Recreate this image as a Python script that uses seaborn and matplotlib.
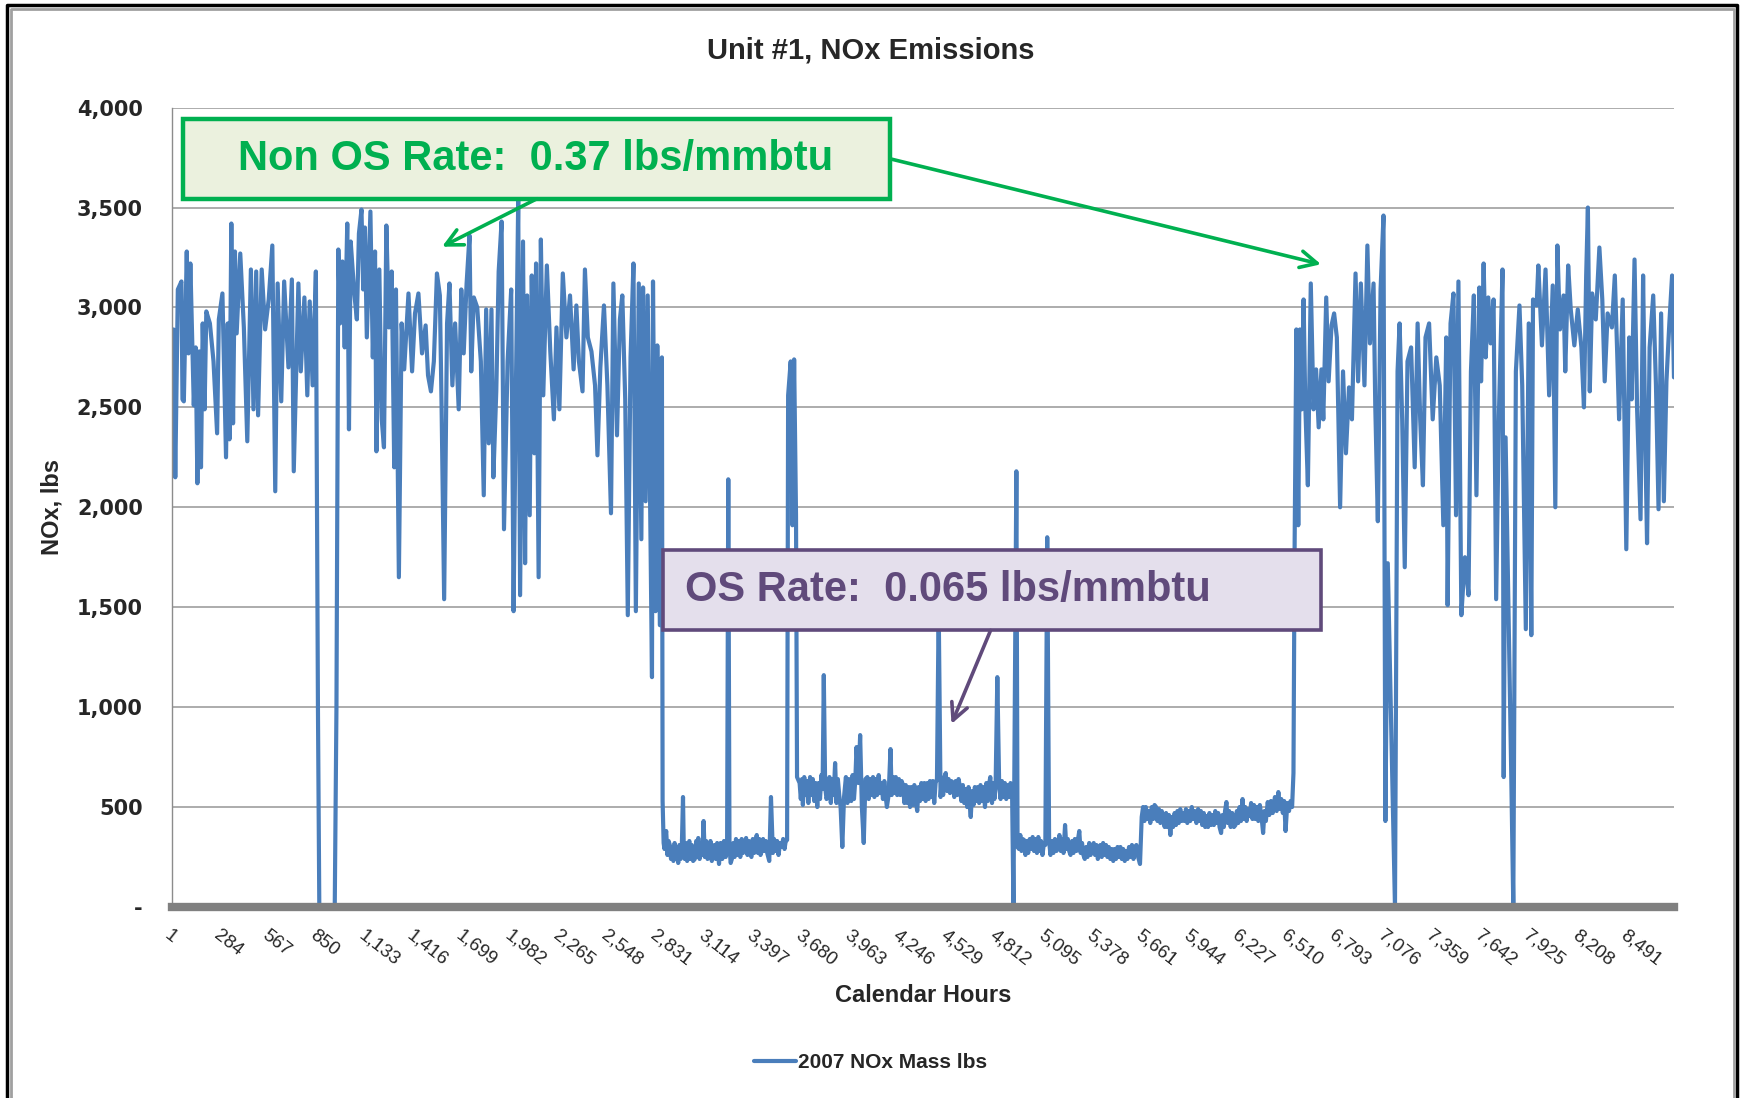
import matplotlib
matplotlib.use("Agg")
import matplotlib.pyplot as plt
from matplotlib import font_manager
from matplotlib.lines import Line2D
import seaborn as sns
import pandas as pd

# hourly NOx mass: [hour of year, lbs]
# Jan - Apr (non ozone season)
spring = [
    [1, 2230], [10, 2890], [20, 2150], [35, 3090], [56, 3130], [62, 2540], [70, 2530], [87, 3280],
    [97, 2770], [108, 3220], [128, 2510], [139, 2800], [149, 2120], [160, 2780], [170, 2200],
    [180, 2920], [191, 2490], [201, 2980], [222, 2920], [243, 2730], [264, 2370], [274, 2940],
    [295, 3070], [316, 2250], [326, 2920], [336, 2340], [347, 3420], [357, 2420], [368, 3280],
    [378, 2870], [399, 3270], [420, 2900], [440, 2330], [461, 3190], [476, 2490], [492, 3180],
    [503, 2460], [524, 3190], [544, 2890], [565, 3040], [586, 3310], [603, 2080], [617, 3120],
    [638, 2530], [655, 3130], [680, 2700], [700, 3140], [711, 2180], [738, 3120], [752, 2680],
    [773, 3050], [790, 2560], [804, 3030], [821, 2610], [840, 3180], [852, 1000], [860, 0],
    [950, 0], [960, 1000], [971, 3290], [981, 2920], [995, 3230], [1008, 2800], [1023, 3420],
    [1033, 2390], [1043, 3330], [1064, 3070], [1079, 2940], [1091, 3370], [1106, 3490],
    [1116, 3090], [1126, 3400], [1137, 2850], [1158, 3480], [1172, 2750], [1185, 3280],
    [1193, 2280], [1210, 3190], [1224, 2440], [1237, 2300], [1251, 3410], [1266, 2900],
    [1282, 3180], [1297, 2200], [1307, 3090], [1324, 1650], [1340, 2920], [1355, 2690],
    [1380, 3070], [1401, 2680], [1418, 2970], [1438, 3070], [1459, 2770], [1480, 2910],
    [1494, 2660], [1511, 2580], [1528, 2730], [1546, 3170], [1563, 3060], [1573, 2510],
    [1588, 1540], [1605, 2920], [1619, 3120], [1636, 2610], [1652, 2920], [1673, 2490],
    [1688, 3090], [1702, 2770], [1719, 3120], [1736, 3360], [1746, 2680], [1761, 3050],
    [1781, 3000], [1802, 2730], [1819, 2060], [1833, 2990], [1848, 2320], [1864, 2990],
    [1875, 2150], [1892, 2580], [1906, 3180], [1923, 3430], [1937, 1890], [1958, 2730],
    [1979, 3090], [1993, 1480], [2006, 2560], [2020, 3540], [2031, 1560], [2048, 3330],
    [2060, 1720], [2072, 3060], [2087, 1960], [2099, 3160], [2114, 2270], [2124, 3220],
    [2139, 1650], [2152, 3340], [2166, 2560], [2187, 3210], [2207, 2780], [2228, 2440],
    [2243, 2900], [2260, 2490], [2280, 3170], [2301, 2850], [2322, 3060], [2343, 2690],
    [2359, 3010], [2374, 2730], [2395, 2580], [2409, 3190], [2426, 2850], [2447, 2780],
    [2468, 2610], [2482, 2260], [2499, 2700], [2520, 3010], [2540, 2610], [2561, 1970],
    [2575, 3120], [2596, 2360], [2613, 2940], [2627, 3060], [2644, 2540], [2659, 1460],
    [2675, 2750], [2692, 3220], [2706, 1480], [2723, 3120], [2738, 1840], [2748, 3100],
    [2763, 2030], [2775, 3060], [2790, 1960], [2800, 1150], [2806, 3130], [2821, 1480],
    [2831, 2810], [2846, 1410], [2858, 2750],
]
# May - Sep (ozone season, SCR on)
ozone = [
    [2862, 530], [2868, 320], [2873, 290], [2878, 350], [2883, 380], [2890, 260], [2897, 330],
    [2904, 310], [2911, 240], [2918, 300], [2925, 230], [2932, 320], [2939, 250], [2946, 290],
    [2953, 220], [2960, 310], [2967, 240], [2974, 300], [2981, 550], [2986, 260], [2991, 240],
    [2998, 320], [3005, 230], [3011, 300], [3018, 330], [3025, 240], [3032, 310], [3040, 230],
    [3050, 240], [3058, 330], [3064, 250], [3070, 345], [3078, 240], [3086, 320], [3094, 260],
    [3101, 430], [3108, 250], [3116, 330], [3124, 240], [3133, 260], [3141, 330], [3149, 230],
    [3157, 300], [3164, 310], [3172, 240], [3180, 320], [3191, 215], [3200, 320], [3210, 240],
    [3220, 330], [3230, 250], [3238, 280], [3245, 2140], [3252, 300], [3259, 220], [3266, 240],
    [3274, 320], [3282, 250], [3290, 340], [3298, 260], [3307, 330], [3315, 250], [3323, 340],
    [3331, 270], [3340, 320], [3349, 345], [3357, 260], [3365, 330], [3372, 270], [3380, 250],
    [3388, 340], [3396, 270], [3404, 330], [3411, 360], [3418, 270], [3426, 340], [3433, 260],
    [3440, 280], [3448, 340], [3456, 280], [3464, 330], [3472, 270], [3484, 230], [3494, 550],
    [3505, 270], [3512, 340], [3520, 280], [3530, 330], [3538, 260], [3547, 320], [3557, 300],
    [3565, 340], [3573, 290], [3580, 330], [3588, 335], [3594, 2560], [3609, 2730], [3619, 1910],
    [3629, 2740], [3640, 1960], [3646, 650], [3661, 620], [3668, 540], [3675, 640], [3680, 510],
    [3688, 650], [3696, 560], [3704, 630], [3712, 520], [3722, 650], [3730, 560], [3738, 640],
    [3746, 530], [3755, 620], [3764, 500], [3772, 620], [3780, 540], [3788, 660], [3795, 590],
    [3802, 1160], [3810, 600], [3818, 540], [3827, 570], [3835, 650], [3843, 520], [3851, 640],
    [3860, 560], [3868, 720], [3876, 520], [3884, 640], [3892, 560], [3900, 500], [3910, 300],
    [3920, 550], [3931, 650], [3940, 520], [3948, 640], [3955, 560], [3962, 530], [3970, 660],
    [3978, 540], [3986, 640], [3993, 800], [4004, 620], [4014, 860], [4024, 500], [4035, 320],
    [4045, 640], [4056, 650], [4064, 540], [4072, 640], [4080, 560], [4089, 650], [4097, 550],
    [4105, 640], [4113, 560], [4122, 660], [4130, 570], [4139, 620], [4147, 540], [4155, 630],
    [4162, 560], [4170, 500], [4180, 560], [4191, 790], [4198, 560], [4206, 650], [4214, 570],
    [4222, 650], [4230, 560], [4240, 640], [4248, 560], [4256, 630], [4264, 610], [4272, 520],
    [4280, 610], [4289, 520], [4297, 600], [4305, 500], [4313, 600], [4322, 510], [4330, 610],
    [4338, 530], [4347, 480], [4355, 600], [4363, 530], [4371, 620], [4380, 540], [4388, 620],
    [4396, 530], [4405, 620], [4413, 540], [4421, 630], [4430, 550], [4438, 630], [4446, 520],
    [4454, 620], [4462, 640], [4472, 1500], [4483, 550], [4490, 640], [4498, 560], [4505, 650],
    [4513, 670], [4521, 580], [4530, 640], [4538, 570], [4546, 630], [4555, 620], [4563, 550],
    [4571, 630], [4580, 560], [4588, 640], [4596, 600], [4604, 530], [4613, 610], [4621, 520],
    [4630, 590], [4638, 500], [4646, 600], [4652, 520], [4659, 450], [4667, 580], [4675, 510],
    [4683, 600], [4692, 530], [4700, 600], [4708, 520], [4716, 610], [4725, 530], [4733, 600],
    [4742, 500], [4750, 620], [4758, 530], [4765, 610], [4773, 650], [4783, 520], [4790, 620],
    [4797, 540], [4804, 610], [4814, 1150], [4825, 600], [4833, 540], [4841, 630], [4850, 550],
    [4858, 620], [4866, 540], [4875, 610], [4883, 550], [4891, 620], [4900, 580], [4908, 0],
    [4925, 2180], [4932, 300], [4940, 290], [4948, 360], [4955, 280], [4962, 340], [4970, 335],
    [4978, 260], [4986, 330], [4994, 270], [5003, 340], [5012, 290], [5020, 350], [5028, 280],
    [5036, 340], [5045, 270], [5053, 350], [5061, 280], [5069, 330], [5077, 260], [5086, 320],
    [5094, 310], [5105, 1850], [5116, 330], [5124, 260], [5132, 330], [5141, 270], [5150, 340],
    [5159, 280], [5168, 300], [5176, 360], [5184, 280], [5192, 340], [5200, 270], [5209, 410],
    [5217, 290], [5225, 340], [5233, 280], [5241, 260], [5250, 330], [5258, 270], [5266, 340],
    [5275, 280], [5283, 330], [5292, 380], [5300, 270], [5308, 320], [5316, 260], [5324, 240],
    [5332, 300], [5340, 250], [5350, 320], [5358, 260], [5367, 300], [5376, 320], [5384, 260],
    [5392, 310], [5400, 240], [5407, 260], [5415, 310], [5423, 250], [5431, 320], [5440, 260],
    [5448, 310], [5456, 250], [5464, 300], [5473, 240], [5481, 290], [5490, 230], [5498, 290],
    [5506, 240], [5515, 300], [5523, 250], [5532, 300], [5540, 240], [5548, 290], [5557, 230],
    [5565, 280], [5573, 240], [5582, 300], [5590, 250], [5599, 310], [5608, 240], [5616, 300],
    [5625, 310], [5635, 250], [5646, 215], [5656, 450], [5664, 500], [5672, 430], [5680, 500],
    [5689, 440], [5698, 480], [5706, 420], [5715, 500], [5723, 440], [5731, 510], [5740, 500],
    [5748, 430], [5756, 490], [5765, 420], [5773, 480], [5781, 440], [5790, 400], [5798, 470],
    [5806, 400], [5815, 460], [5823, 360], [5831, 450], [5839, 400], [5848, 470], [5856, 410],
    [5864, 480], [5872, 420], [5881, 490], [5889, 430], [5897, 470], [5906, 430], [5914, 490],
    [5922, 420], [5931, 480], [5939, 430], [5948, 500], [5956, 440], [5965, 480], [5975, 420],
    [5985, 490], [5993, 430], [6001, 480], [6009, 410], [6018, 470], [6026, 400], [6035, 455],
    [6043, 400], [6051, 470], [6060, 410], [6068, 460], [6077, 410], [6085, 480], [6094, 420],
    [6102, 470], [6110, 400], [6119, 370], [6127, 460], [6135, 400], [6142, 480], [6150, 525],
    [6158, 420], [6166, 480], [6175, 400], [6184, 470], [6194, 400], [6203, 410], [6211, 480],
    [6219, 420], [6227, 500], [6235, 430], [6244, 540], [6252, 440], [6260, 500], [6268, 430],
    [6277, 490], [6286, 455], [6294, 520], [6302, 440], [6311, 510], [6319, 440], [6328, 500],
    [6336, 430], [6345, 510], [6355, 450], [6364, 370], [6372, 480], [6380, 430], [6391, 525],
    [6400, 460], [6410, 530], [6420, 470], [6433, 550], [6443, 480], [6453, 575], [6462, 490],
    [6470, 540], [6479, 470], [6487, 530], [6495, 380], [6505, 520], [6515, 480], [6524, 530],
    [6533, 500], [6541, 670],
]
# Oct - Dec (non ozone season)
autumn = [
    [6548, 1840], [6558, 2890], [6569, 1910], [6579, 2890], [6589, 2490], [6600, 3040],
    [6610, 2510], [6625, 2110], [6642, 3120], [6658, 2490], [6673, 2690], [6688, 2400],
    [6704, 2690], [6715, 2440], [6732, 3050], [6746, 2630], [6763, 2910], [6778, 2970],
    [6794, 2850], [6813, 2000], [6830, 2680], [6847, 2270], [6865, 2600], [6882, 2440],
    [6903, 3170], [6918, 2630], [6934, 3120], [6955, 2610], [6972, 3310], [6987, 2820],
    [7008, 3120], [7018, 2510], [7033, 1930], [7049, 3090], [7066, 3460], [7077, 430],
    [7091, 1720], [7133, 0], [7148, 2680], [7160, 2920], [7175, 2440], [7190, 1700],
    [7206, 2730], [7227, 2800], [7248, 2200], [7265, 2920], [7280, 2440], [7296, 2110],
    [7311, 2850], [7332, 2920], [7353, 2440], [7374, 2750], [7394, 2610], [7415, 1910],
    [7432, 2850], [7440, 1510], [7457, 2920], [7474, 3070], [7489, 1960], [7503, 3130],
    [7520, 1460], [7541, 1750], [7562, 1560], [7576, 2680], [7593, 3060], [7608, 2060],
    [7625, 3100], [7635, 2630], [7650, 3220], [7662, 2750], [7677, 3050], [7691, 2820],
    [7708, 3040], [7723, 1540], [7739, 2460], [7760, 3190], [7767, 650], [7778, 2350],
    [7810, 720], [7823, 0], [7838, 2680], [7859, 3010], [7875, 2610], [7896, 1390],
    [7913, 2920], [7928, 1360], [7938, 3040], [7959, 3010], [7969, 3210], [7990, 2810],
    [8011, 3190], [8032, 2560], [8053, 3110], [8068, 2000], [8080, 3310], [8095, 2890],
    [8116, 3060], [8126, 2680], [8143, 3210], [8158, 2990], [8179, 2810], [8199, 2990],
    [8220, 2800], [8235, 2500], [8248, 3160], [8258, 3500], [8269, 2580], [8283, 3070],
    [8304, 2940], [8325, 3300], [8342, 3040], [8356, 2630], [8373, 2970], [8398, 2900],
    [8415, 3160], [8429, 2770], [8440, 2440], [8461, 3040], [8482, 1790], [8499, 2850],
    [8513, 2540], [8530, 3240], [8545, 2490], [8565, 1940], [8580, 3160], [8593, 2320],
    [8603, 1820], [8618, 2800], [8639, 3060], [8655, 2610], [8670, 1990], [8685, 2970],
    [8701, 2030], [8716, 2630], [8733, 2920], [8749, 3160], [8760, 2650],
]
tick_hours = [1, 284, 567, 850, 1133, 1416, 1699, 1982, 2265, 2548, 2831, 3114, 3397, 3680, 3963, 4246,
              4529, 4812, 5095, 5378, 5661, 5944, 6227, 6510, 6793, 7076, 7359, 7642, 7925, 8208, 8491]
y_ticks = [0, 500, 1000, 1500, 2000, 2500, 3000, 3500, 4000]

df = pd.DataFrame(spring + ozone + autumn, columns=["hour", "nox"])

sns.set_style("white")
names = {f.name for f in font_manager.fontManager.ttflist}
narrow = "Liberation Sans Narrow" if "Liberation Sans Narrow" in names else "Liberation Sans"
plt.rcParams["font.family"] = [narrow, "DejaVu Sans"]

line_col = "#4A7EBB"
green = "#00B050"
purple = "#604A7B"

fig = plt.figure(figsize=(17.41, 10.98), dpi=100)
ax = fig.add_axes([0.0988, 0.174, 0.8627, 0.728])

sns.lineplot(data=df, x="hour", y="nox", ax=ax, color=line_col, lw=3.0, legend=False)

ax.set_xlim(1, 8760)
ax.set_ylim(0, 4000)
ax.set_yticks(y_ticks)
ax.set_yticklabels(["-" if v == 0 else f"{v:,}" for v in y_ticks],
                   fontfamily="DejaVu Sans", fontweight="bold", fontsize=15)
ax.set_xticks(tick_hours)
ax.set_xticklabels([f"{v:,}" for v in tick_hours], rotation=-38, ha="left", va="top",
                   rotation_mode="anchor", fontsize=13.5)
ax.tick_params(axis="x", length=0, pad=14)
ax.tick_params(axis="y", length=8, width=1, color="#8C8C8C", direction="out", pad=13)
ax.grid(axis="y", color="#A6A6A6", lw=1.3)
ax.grid(axis="x", visible=False)
ax.set_axisbelow(True)
for s in ["top", "right"]:
    ax.spines[s].set_visible(False)
ax.spines["left"].set_color("#8C8C8C")
ax.spines["left"].set_linewidth(1)
ax.spines["bottom"].set_color("#808080")
ax.spines["bottom"].set_linewidth(6)
ax.spines["bottom"].set_zorder(5)
ax.set_xlabel("")
ax.set_ylabel("")

fig.text(0.5, 0.9536, "Unit #1, NOx Emissions", ha="center", va="center",
         fontsize=21, fontweight="bold")
fig.text(0.0299, 0.538, "NOx, lbs", rotation=90, ha="center", va="center",
         fontsize=17, fontweight="bold")
fig.text(0.530, 0.093, "Calendar Hours", ha="center", va="center",
         fontsize=17, fontweight="bold")

# annotation boxes
ax.add_patch(plt.Rectangle((0.0073, 0.886), 0.4707, 0.10, transform=ax.transAxes,
                           facecolor="#EBF1DE", edgecolor=green, lw=3.2, zorder=6, clip_on=False))
ax.text(0.2423, 0.936, "Non OS Rate:  0.37 lbs/mmbtu", transform=ax.transAxes,
        ha="center", va="center", fontsize=30, fontweight="bold", color=green, zorder=7)
ax.add_patch(plt.Rectangle((0.327, 0.346), 0.438, 0.10, transform=ax.transAxes,
                           facecolor="#E4DFEC", edgecolor=purple, lw=2.6, zorder=6))
ax.text(0.3415, 0.396, "OS Rate:  0.065 lbs/mmbtu", transform=ax.transAxes,
        ha="left", va="center", fontsize=30, fontweight="bold", color=purple, zorder=7)

arrow = dict(arrowstyle="->", lw=2.6, mutation_scale=30, shrinkA=0, shrinkB=0)
ax.annotate("", xy=(0.1798, 0.826), xytext=(0.243, 0.886), xycoords="axes fraction",
            arrowprops=dict(arrow, color=green), zorder=7)
ax.annotate("", xy=(0.765, 0.804), xytext=(0.478, 0.936), xycoords="axes fraction",
            arrowprops=dict(arrow, color=green), zorder=7)
ax.annotate("", xy=(0.519, 0.229), xytext=(0.545, 0.346), xycoords="axes fraction",
            arrowprops=dict(arrow, color=purple), zorder=7)

handles = [Line2D([], [], color=line_col, lw=3)]
fig.legend(handles, ["2007 NOx Mass lbs"], loc="center", bbox_to_anchor=(0.5, 0.032),
           frameon=False, handlelength=2.0, handletextpad=0.1,
           prop={"weight": "bold", "size": 15})

# slide frame
tf = fig.transFigure
W, H = 1741, 1098
fig.add_artist(Line2D([7 / W, 7 / W, 1737 / W, 1737 / W], [0, 1 - 5 / H, 1 - 5 / H, 0],
                      transform=tf, color="black", lw=2.5))
fig.add_artist(Line2D([10.5 / W, 10.5 / W, 1733.5 / W, 1733.5 / W], [0, 1 - 9 / H, 1 - 9 / H, 0],
                      transform=tf, color="#A0A0A0", lw=2))

fig.savefig("out.png", dpi=100)
